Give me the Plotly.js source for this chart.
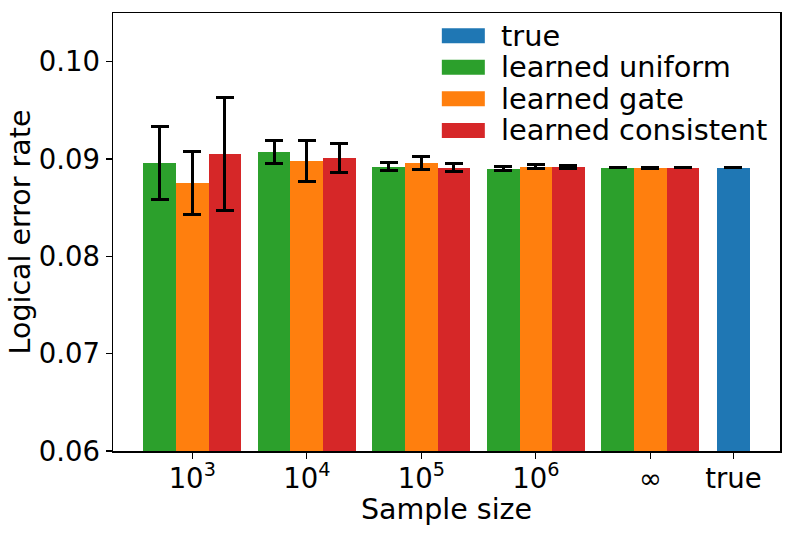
<!DOCTYPE html>
<html>
<head>
<meta charset="utf-8">
<script src="https://cdn.plot.ly/plotly-3.0.1.min.js"></script>
<style>html,body{margin:0;padding:0;background:#fff;}#chart{width:794px;height:534px;}</style>
</head>
<body>
<div id="chart"></div>
<script>
// Tick labels of the sample-size groups
const groupLabels = ['10<sup>3</sup>', '10<sup>4</sup>', '10<sup>5</sup>', '10<sup>6</sup>', '∞'];
const trueLabel = 'true';

// Series values per group (10^3, 10^4, 10^5, 10^6, ∞)
const uniformVals = [0.0896, 0.0907, 0.08922, 0.08901, 0.08912];
const uniformErr  = [0.00375, 0.0012, 0.00045, 0.00024, 0.00003];
const gateVals    = [0.08754, 0.0898, 0.08957, 0.08922, 0.08905];
const gateErr     = [0.0032, 0.00215, 0.00065, 0.0002, 0.00003];
const consistVals = [0.0905, 0.0901, 0.08912, 0.08916, 0.08912];
const consistErr  = [0.0058, 0.00145, 0.00045, 0.00015, 0.00003];
const trueVal = [0.08912];
const trueErr = [0.00003];

const seriesNames = ['true', 'learned uniform', 'learned gate', 'learned consistent'];
const colors = {'true': '#1f77b4', 'learned uniform': '#2ca02c', 'learned gate': '#ff7f0e', 'learned consistent': '#d62728'};

// layout parameters
const W = 0.285;          // bar width in group units
const truePos = 4.725;    // position of the "true" bar
const idx = groupLabels.map((_, i) => i);

function errSpec(arr) {
  return {type: 'data', array: arr, visible: true, color: '#000', thickness: 3, width: 9};
}
function barTrace(name, xs, ys, errs) {
  return {type: 'bar', name: name, x: xs, y: ys, width: W,
    marker: {color: colors[name], line: {width: 0}},
    error_y: errSpec(errs), showlegend: false, hoverinfo: 'skip'};
}

const traces = [
  barTrace('learned uniform', idx.map(i => i - W), uniformVals, uniformErr),
  barTrace('learned gate', idx.map(i => i), gateVals, gateErr),
  barTrace('learned consistent', idx.map(i => i + W), consistVals, consistErr),
  barTrace('true', [truePos], trueVal, trueErr)
];

const font = {family: 'DejaVu Sans', color: '#000'};

// custom legend (wide matplotlib-style patches)
const legendX = 0.493, legendTextX = 0.578;
const legendY = [0.948, 0.876, 0.804, 0.732];
const shapes = [], annotations = [];
seriesNames.forEach((n, i) => {
  shapes.push({type: 'rect', xref: 'paper', yref: 'paper',
    xsizemode: 'pixel', ysizemode: 'pixel', xanchor: legendX, yanchor: legendY[i],
    x0: 0, x1: 43, y0: -7.5, y1: 7.5, fillcolor: colors[n], line: {width: 0}});
  annotations.push({xref: 'paper', yref: 'paper', x: legendTextX, y: legendY[i],
    xanchor: 'left', yanchor: 'middle', showarrow: false, text: n,
    font: Object.assign({size: 28.8}, font)});
});

const layout = {
  width: 794, height: 534,
  margin: {l: 113, r: 14, t: 13, b: 83},
  paper_bgcolor: '#fff', plot_bgcolor: '#fff',
  barmode: 'overlay', bargap: 0,
  font: Object.assign({size: 27}, font),
  showlegend: false,
  xaxis: {
    range: [-0.692, 5.132],
    tickmode: 'array',
    tickvals: idx.concat([truePos]),
    ticktext: groupLabels.concat([trueLabel]),
    ticks: 'outside', ticklen: 6, tickwidth: 1.3, tickcolor: '#000',
    ticklabelstandoff: -4,
    showline: true, linecolor: '#000', linewidth: 1.5, mirror: true,
    showgrid: false, zeroline: false,
    tickfont: Object.assign({size: 27.5}, font),
    title: {text: 'Sample size', font: Object.assign({size: 28.5}, font), standoff: 0}
  },
  yaxis: {
    range: [0.06, 0.105],
    tickvals: [0.06, 0.07, 0.08, 0.09, 0.10],
    ticktext: ['0.06', '0.07', '0.08', '0.09', '0.10'],
    ticks: 'outside', ticklen: 6, tickwidth: 1.3, tickcolor: '#000',
    showline: true, linecolor: '#000', linewidth: 1.5, mirror: true,
    showgrid: false, zeroline: false,
    tickfont: Object.assign({size: 27.5}, font),
    title: {text: 'Logical error rate', font: Object.assign({size: 28.5}, font), standoff: 0}
  },
  shapes: shapes,
  annotations: annotations
};

Plotly.newPlot('chart', traces, layout, {staticPlot: true, displayModeBar: false});
</script>
</body>
</html>
